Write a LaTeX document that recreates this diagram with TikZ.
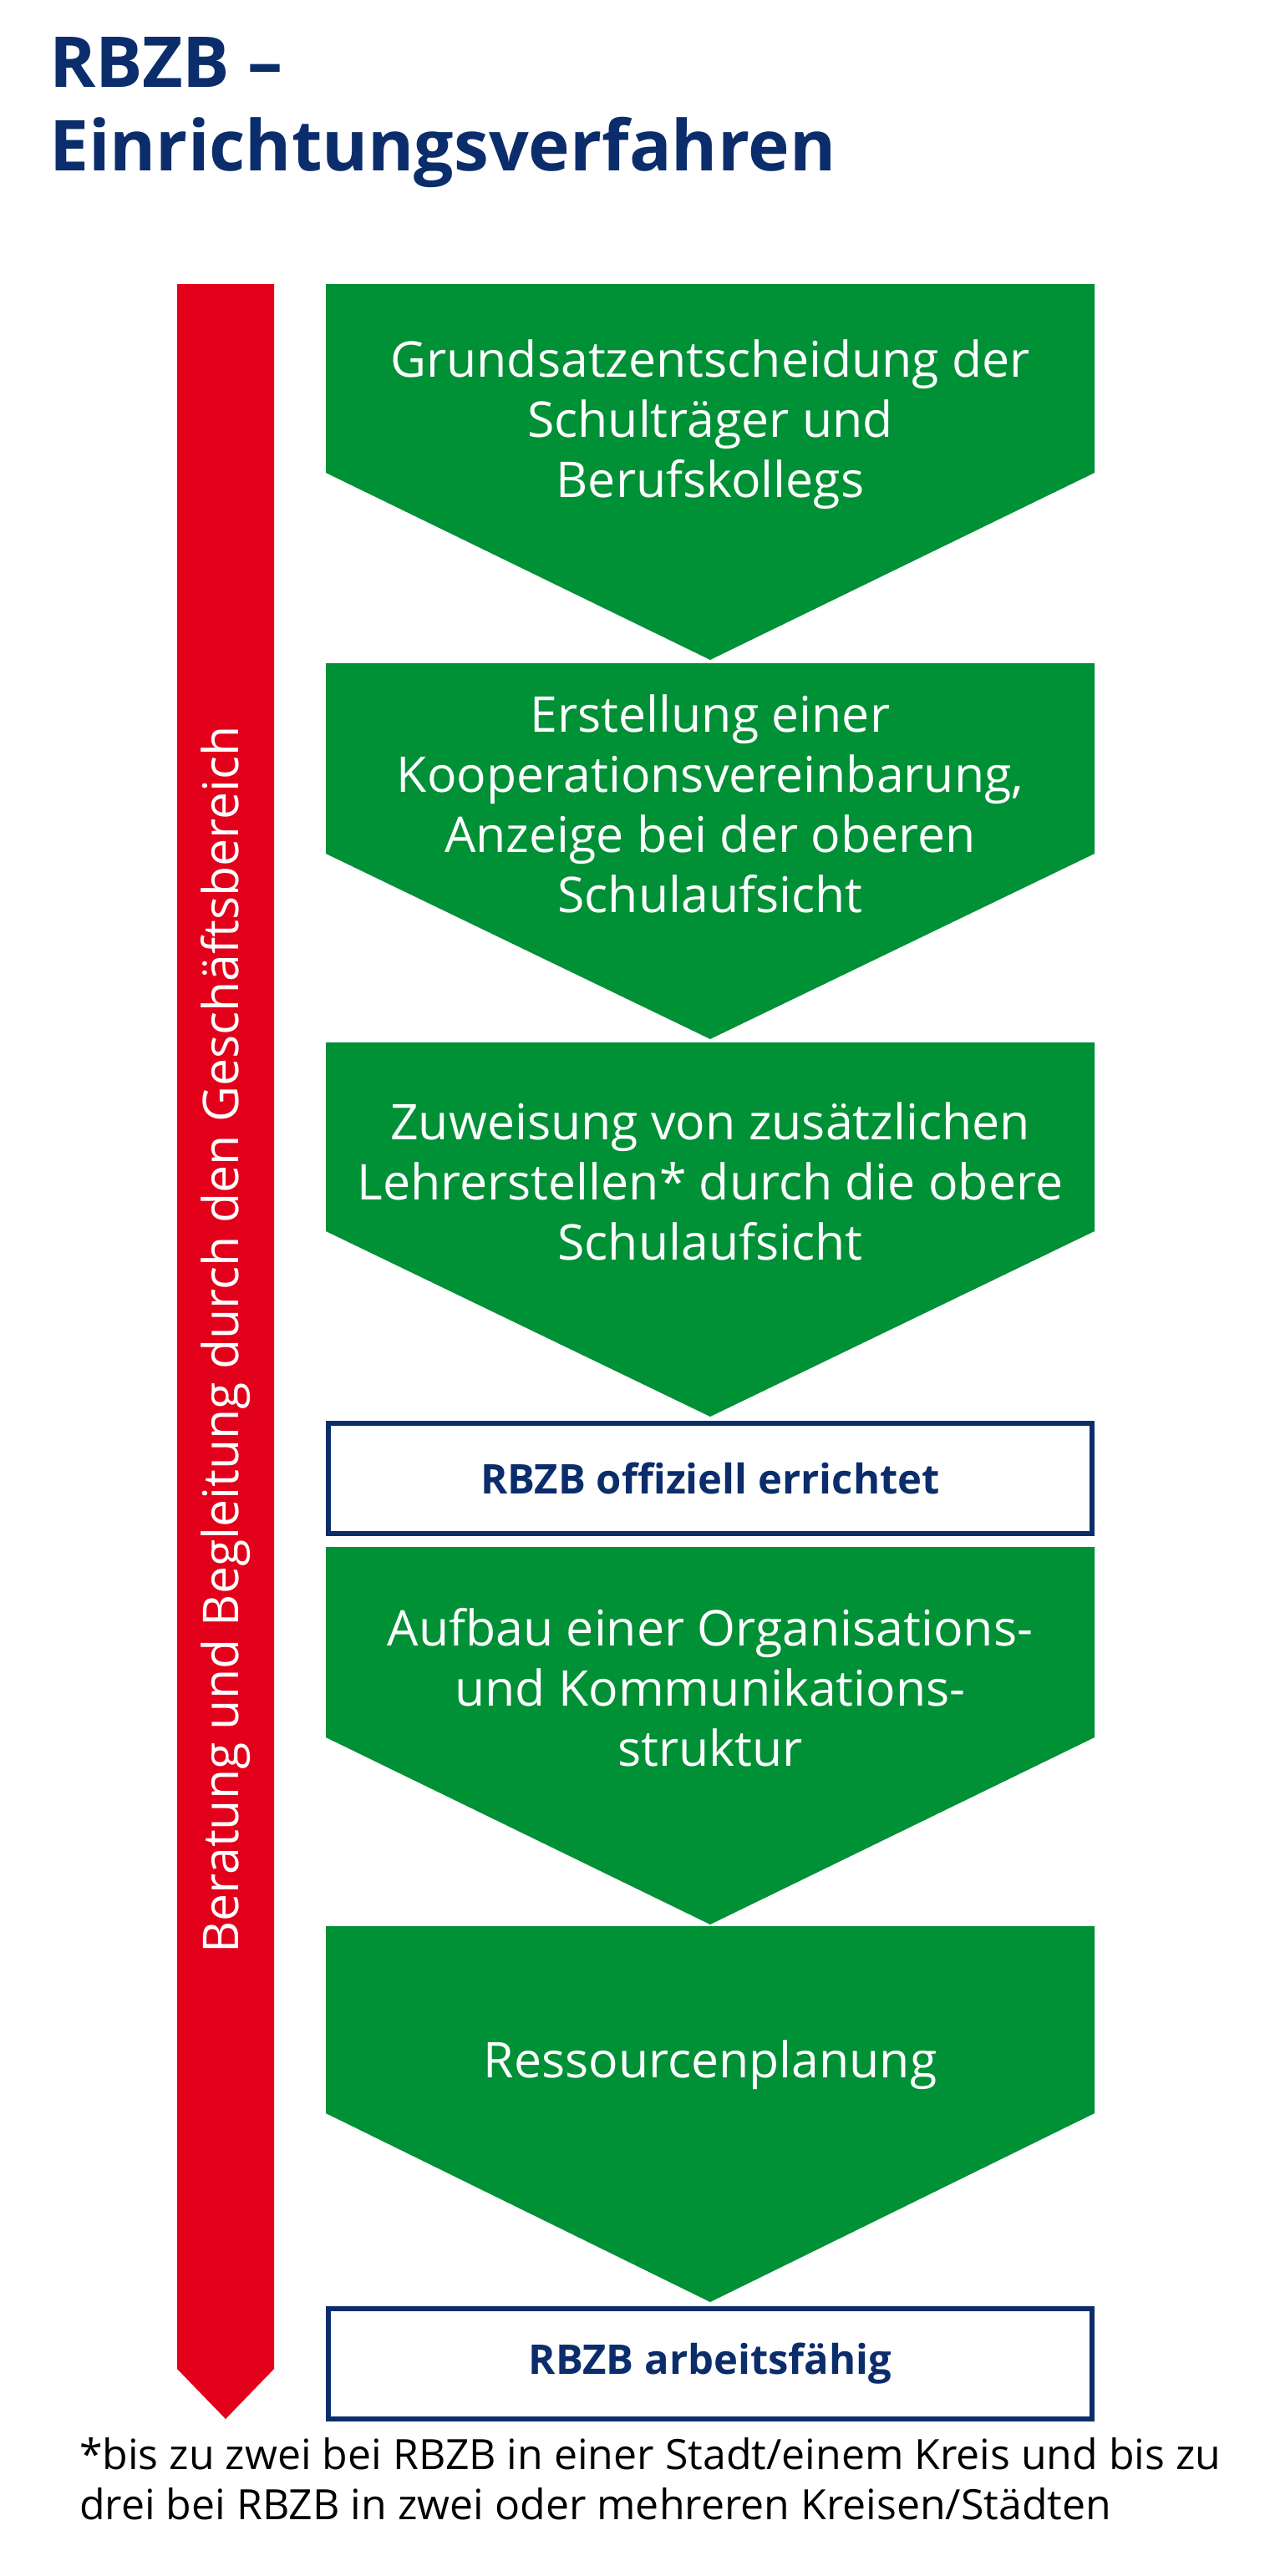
\documentclass[tikz,border=0pt]{standalone}
\usepackage{fontspec}
\setmainfont{Open Sans}
\definecolor{navy}{HTML}{0B2D6B}
\definecolor{rgreen}{HTML}{009036}
\definecolor{rred}{HTML}{E2001A}
\begin{document}
\begin{tikzpicture}[x=1pt,y=-1pt,
  chev/.style={fill=rgreen,draw=none},
  ctext/.style={text=white,align=center,font=\fontsize{29.5}{36}\selectfont},
  bbox/.style={draw=navy,line width=3pt,fill=white,minimum width=457pt,minimum height=66pt,text=navy,font=\bfseries\fontsize{24.5}{28}\selectfont}]
\useasboundingbox (0,0) rectangle (760,1542);
\node[anchor=base west,text=navy,font=\bfseries\fontsize{42}{50}\selectfont,align=left] (title) at (26,52) {RBZB –};
\node[anchor=base west,text=navy,font=\bfseries\fontsize{42}{50}\selectfont,align=left] (title2) at (26,102) {Einrichtungsverfahren};
\fill[rred] (106,170) -- (164,170) -- (164,1418) -- (135,1448) -- (106,1418) -- cycle;
\node[rotate=90,text=white,font=\fontsize{29.5}{32}\selectfont] (side) at (135,802) {Beratung und Begleitung durch den Geschäftsbereich};
\foreach \t/\s/\p/\n in {170/283/395/a,397/511/622/b,624/737/848/c,926/1040/1152/d,1153/1265/1378/e}{
  \fill[chev] (195,\t) -- (655,\t) -- (655,\s) -- (425,\p) -- (195,\s) -- cycle;
}
\node[ctext] (ta) at (425,254) {Grundsatzentscheidung der\\Schulträger und\\Berufskollegs};
\node[ctext] (tb) at (425,481) {Erstellung einer\\Kooperationsvereinbarung,\\Anzeige bei der oberen\\Schulaufsicht};
\node[ctext] (tc) at (425,707) {Zuweisung von zusätzlichen\\Lehrerstellen* durch die obere\\Schulaufsicht};
\node[bbox] (b1) at (425,885) {RBZB offiziell errichtet};
\node[ctext] (td) at (425,1010) {Aufbau einer Organisations-\\und Kommunikations-\\struktur};
\node[ctext] (te) at (425,1236) {Ressourcenplanung};
\node[bbox] (b2) at (425,1415) {RBZB arbeitsfähig};
\node[anchor=base west,align=left,font=\fontsize{25}{30}\selectfont] (fn) at (44,1508) {*bis zu zwei bei RBZB in einer Stadt/einem Kreis und bis zu\\drei bei RBZB in zwei oder mehreren Kreisen/Städten};
\end{tikzpicture}
\end{document}
